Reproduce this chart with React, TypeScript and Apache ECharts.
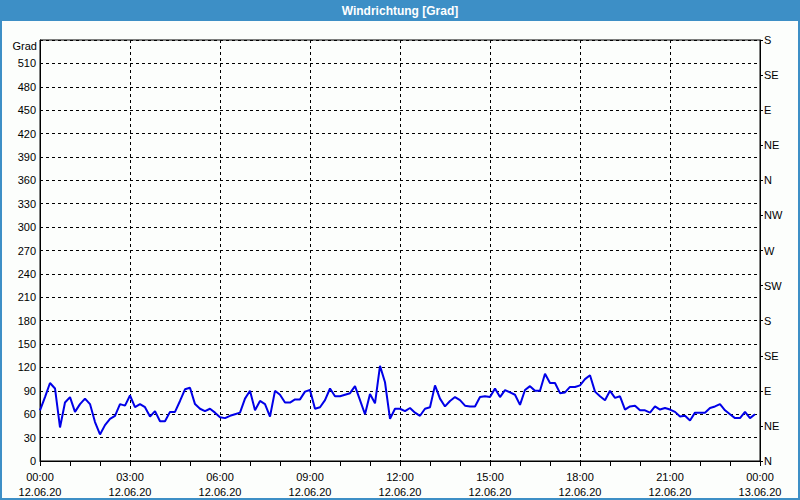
import React, { useEffect, useRef } from "react";
import * as echarts from "echarts";

const TITLE = "Windrichtung [Grad]";
const DATE_DAY1 = "12.06.20";
const DATE_DAY2 = "13.06.20";
const LEFT_AXIS_NAME = "Grad";

const times = [
  "00:00","00:10","00:20","00:30","00:40","00:50",
  "01:00","01:10","01:20","01:30","01:40","01:50",
  "02:00","02:10","02:20","02:30","02:40","02:50",
  "03:00","03:10","03:20","03:30","03:40","03:50",
  "04:00","04:10","04:20","04:30","04:40","04:50",
  "05:00","05:10","05:20","05:30","05:40","05:50",
  "06:00","06:10","06:20","06:30","06:40","06:50",
  "07:00","07:10","07:20","07:30","07:40","07:50",
  "08:00","08:10","08:20","08:30","08:40","08:50",
  "09:00","09:10","09:20","09:30","09:40","09:50",
  "10:00","10:10","10:20","10:30","10:40","10:50",
  "11:00","11:10","11:20","11:30","11:40","11:50",
  "12:00","12:10","12:20","12:30","12:40","12:50",
  "13:00","13:10","13:20","13:30","13:40","13:50",
  "14:00","14:10","14:20","14:30","14:40","14:50",
  "15:00","15:10","15:20","15:30","15:40","15:50",
  "16:00","16:10","16:20","16:30","16:40","16:50",
  "17:00","17:10","17:20","17:30","17:40","17:50",
  "18:00","18:10","18:20","18:30","18:40","18:50",
  "19:00","19:10","19:20","19:30","19:40","19:50",
  "20:00","20:10","20:20","20:30","20:40","20:50",
  "21:00","21:10","21:20","21:30","21:40","21:50",
  "22:00","22:10","22:20","22:30","22:40","22:50",
  "23:00","23:10","23:20","23:30","23:40","23:50",
];

const directionDeg = [
  65, 82, 100, 93, 43, 75,
  82, 63, 73, 80, 73, 50,
  34, 46, 54, 58, 73, 71,
  84, 69, 73, 69, 57, 64,
  51, 51, 63, 63, 77, 92,
  94, 73, 67, 64, 67, 62,
  56, 55, 58, 60, 62, 80,
  90, 65, 77, 73, 57, 90,
  85, 75, 75, 79, 79, 89,
  91, 67, 69, 78, 93, 83,
  83, 85, 87, 96, 78, 60,
  86, 74, 122, 101, 54, 67,
  67, 64, 68, 62, 58, 67,
  69, 97, 80, 70, 77, 82,
  78, 71, 70, 70, 82, 83,
  82, 93, 82, 91, 88, 85,
  72, 91, 96, 90, 90, 112,
  100, 100, 87, 88, 95, 95,
  97, 105, 110, 89, 83, 78,
  90, 81, 83, 66, 70, 71,
  65, 65, 62, 70, 66, 68,
  66, 63, 57, 58, 52, 62,
  62, 62, 68, 70, 73, 65,
  60, 55, 55, 63, 55, 60,
];

const compassLabels = ["N", "NE", "E", "SE", "S", "SW", "W", "NW", "N", "NE", "E", "SE", "S"];

const toMinutes = (t: string) => {
  const [h, m] = t.split(":").map(Number);
  return h * 60 + m;
};

export default function App() {
  const ref = useRef<HTMLDivElement>(null);

  useEffect(() => {
    if (!ref.current) return;
    const chart = echarts.init(ref.current, null, { renderer: "svg" });
    const font = "'Liberation Sans', Arial, sans-serif";
    const seriesData = times.map((t, i) => [toMinutes(t), directionDeg[i]]);

    chart.setOption({
      animation: false,
      backgroundColor: "#fcfefc",
      textStyle: { fontFamily: font },
      grid: {
        left: 40,
        right: 40,
        top: 40,
        bottom: 39,
        show: true,
        borderColor: "#000",
        borderWidth: 1,
        backgroundColor: "transparent",
      },
      xAxis: {
        type: "value",
        min: 0,
        max: 1440,
        interval: 180,
        axisLine: { show: true, lineStyle: { color: "#000", width: 1 } },
        axisTick: { show: true, length: 5, lineStyle: { color: "#000" } },
        minorTick: { show: true, splitNumber: 3, length: 5, lineStyle: { color: "#000" } },
        splitLine: { show: true, lineStyle: { color: "#000", type: [3, 3], width: 1 } },
        axisLabel: {
          color: "#000",
          fontSize: 11,
          fontFamily: font,
          lineHeight: 15,
          margin: 8,
          formatter: (v: number) => {
            const h = Math.floor(v / 60) % 24;
            const hh = String(h).padStart(2, "0");
            const d = v >= 1440 ? DATE_DAY2 : DATE_DAY1;
            return `${hh}:00\n${d}`;
          },
        },
      },
      yAxis: [
        {
          type: "value",
          min: 0,
          max: 540,
          interval: 30,
          position: "left",
          axisLine: { show: true, lineStyle: { color: "#000" } },
          axisTick: { show: false },
          splitLine: { show: true, lineStyle: { color: "#000", type: [3, 3], width: 1 } },
          axisLabel: {
            color: "#000",
            fontSize: 11,
            fontFamily: font,
            margin: 4,
            padding: [4, 0, 0, 0],
            formatter: (v: number) => (v >= 540 ? "" : String(v)),
          },
        },
        {
          type: "value",
          min: 0,
          max: 540,
          interval: 45,
          position: "right",
          axisLine: { show: true, lineStyle: { color: "#000" } },
          axisTick: { show: true, length: 3, lineStyle: { color: "#000" } },
          splitLine: { show: false },
          axisLabel: {
            color: "#000",
            fontSize: 11,
            fontFamily: font,
            margin: 4,
            padding: [5, 0, 0, 0],
            formatter: (v: number) => compassLabels[Math.round(v / 45)] ?? "",
          },
        },
      ],
      series: [
        {
          type: "line",
          yAxisIndex: 0,
          data: seriesData,
          showSymbol: false,
          symbol: "none",
          lineStyle: { color: "#0000e8", width: 2 },
          z: 5,
        },
      ],
      graphic: [
        {
          type: "rect",
          shape: { x: 0, y: 0, width: 800, height: 21 },
          style: { fill: "#3d8fc6" },
          z: 10,
        },
        {
          type: "rect",
          shape: { x: 1, y: 1, width: 798, height: 498 },
          style: { fill: "none", stroke: "#3d8fc6", lineWidth: 2 },
          z: 10,
        },
        {
          type: "text",
          x: 400,
          y: 11,
          style: {
            text: TITLE,
            fill: "#fff",
            font: `bold 12px ${font}`,
            textAlign: "center",
            textVerticalAlign: "middle",
          },
          z: 11,
        },
        {
          type: "text",
          x: 37,
          y: 46,
          style: {
            text: LEFT_AXIS_NAME,
            fill: "#000",
            font: `11px ${font}`,
            textAlign: "right",
            textVerticalAlign: "middle",
          },
          z: 11,
        },
      ],
    });

    return () => chart.dispose();
  }, []);

  return (
    <div
      ref={ref}
      style={{ position: "fixed", left: 0, top: 0, width: 800, height: 500 }}
    />
  );
}
